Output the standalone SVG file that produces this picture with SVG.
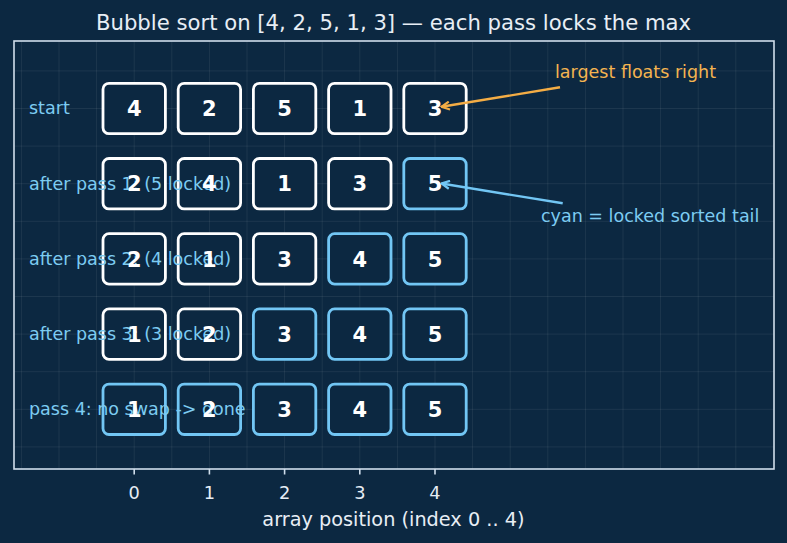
<svg xmlns="http://www.w3.org/2000/svg" width="787" height="543" viewBox="0 0 787 543">
<defs>
<style>
.bg{fill:#0c2841}
.grid line{stroke:#ffffff;stroke-opacity:0.07;stroke-width:1}
.frame{fill:none;stroke:#d0deec;stroke-width:1.6}
.box{fill:#0c2841;stroke-width:2.8}
.w{stroke:#ffffff}
.c{stroke:#72c6f4}
.num{font-family:"DejaVu Sans",sans-serif;font-weight:bold;font-size:21px;fill:#ffffff;text-anchor:middle}
.lbl{font-family:"DejaVu Sans",sans-serif;font-size:17.5px;fill:#7dccf2}
.tick{font-family:"DejaVu Sans",sans-serif;font-size:17.8px;fill:#e6edf5;text-anchor:middle}
.ticks line{stroke:#d0deec;stroke-width:1.6}
</style>
<marker id="ao" viewBox="0 0 10 10" refX="9" refY="5" markerWidth="10" markerHeight="10" markerUnits="userSpaceOnUse" orient="auto">
<path d="M1,1 L9,5 L1,9" fill="none" stroke="#f4ad45" stroke-width="2.2"/>
</marker>
<marker id="ac" viewBox="0 0 10 10" refX="9" refY="5" markerWidth="10" markerHeight="10" markerUnits="userSpaceOnUse" orient="auto">
<path d="M1,1 L9,5 L1,9" fill="none" stroke="#72c6f4" stroke-width="2.2"/>
</marker>
</defs>
<rect class="bg" x="0" y="0" width="787" height="543"/>
<text x="393.5" y="30" font-family="DejaVu Sans, sans-serif" font-size="21.2" fill="#e8eef5" text-anchor="middle">Bubble sort on [4, 2, 5, 1, 3] — each pass locks the max</text>
<g class="grid">
<line x1="21.4" y1="41" x2="21.4" y2="469"/><line x1="59" y1="41" x2="59" y2="469"/><line x1="96.6" y1="41" x2="96.6" y2="469"/><line x1="134.2" y1="41" x2="134.2" y2="469"/><line x1="171.8" y1="41" x2="171.8" y2="469"/><line x1="209.4" y1="41" x2="209.4" y2="469"/><line x1="247" y1="41" x2="247" y2="469"/><line x1="284.6" y1="41" x2="284.6" y2="469"/><line x1="322.2" y1="41" x2="322.2" y2="469"/><line x1="359.8" y1="41" x2="359.8" y2="469"/><line x1="397.4" y1="41" x2="397.4" y2="469"/><line x1="435" y1="41" x2="435" y2="469"/><line x1="472.6" y1="41" x2="472.6" y2="469"/><line x1="510.2" y1="41" x2="510.2" y2="469"/><line x1="547.8" y1="41" x2="547.8" y2="469"/><line x1="585.4" y1="41" x2="585.4" y2="469"/><line x1="623" y1="41" x2="623" y2="469"/><line x1="660.6" y1="41" x2="660.6" y2="469"/><line x1="698.2" y1="41" x2="698.2" y2="469"/><line x1="735.8" y1="41" x2="735.8" y2="469"/>
<line x1="14" y1="70.9" x2="774" y2="70.9"/><line x1="14" y1="108.5" x2="774" y2="108.5"/><line x1="14" y1="146.1" x2="774" y2="146.1"/><line x1="14" y1="183.7" x2="774" y2="183.7"/><line x1="14" y1="221.3" x2="774" y2="221.3"/><line x1="14" y1="258.9" x2="774" y2="258.9"/><line x1="14" y1="296.5" x2="774" y2="296.5"/><line x1="14" y1="334.1" x2="774" y2="334.1"/><line x1="14" y1="371.7" x2="774" y2="371.7"/><line x1="14" y1="409.3" x2="774" y2="409.3"/><line x1="14" y1="446.9" x2="774" y2="446.9"/>
</g>
<g id="row0">
<rect class="box w" x="103" y="83.3" width="62.4" height="50.4" rx="6"/>
<rect class="box w" x="178.2" y="83.3" width="62.4" height="50.4" rx="6"/>
<rect class="box w" x="253.4" y="83.3" width="62.4" height="50.4" rx="6"/>
<rect class="box w" x="328.6" y="83.3" width="62.4" height="50.4" rx="6"/>
<rect class="box w" x="403.8" y="83.3" width="62.4" height="50.4" rx="6"/>
</g>
<g id="row1">
<rect class="box w" x="103" y="158.5" width="62.4" height="50.4" rx="6"/>
<rect class="box w" x="178.2" y="158.5" width="62.4" height="50.4" rx="6"/>
<rect class="box w" x="253.4" y="158.5" width="62.4" height="50.4" rx="6"/>
<rect class="box w" x="328.6" y="158.5" width="62.4" height="50.4" rx="6"/>
<rect class="box c" x="403.8" y="158.5" width="62.4" height="50.4" rx="6"/>
</g>
<g id="row2">
<rect class="box w" x="103" y="233.7" width="62.4" height="50.4" rx="6"/>
<rect class="box w" x="178.2" y="233.7" width="62.4" height="50.4" rx="6"/>
<rect class="box w" x="253.4" y="233.7" width="62.4" height="50.4" rx="6"/>
<rect class="box c" x="328.6" y="233.7" width="62.4" height="50.4" rx="6"/>
<rect class="box c" x="403.8" y="233.7" width="62.4" height="50.4" rx="6"/>
</g>
<g id="row3">
<rect class="box w" x="103" y="308.9" width="62.4" height="50.4" rx="6"/>
<rect class="box w" x="178.2" y="308.9" width="62.4" height="50.4" rx="6"/>
<rect class="box c" x="253.4" y="308.9" width="62.4" height="50.4" rx="6"/>
<rect class="box c" x="328.6" y="308.9" width="62.4" height="50.4" rx="6"/>
<rect class="box c" x="403.8" y="308.9" width="62.4" height="50.4" rx="6"/>
</g>
<g id="row4">
<rect class="box c" x="103" y="384.1" width="62.4" height="50.4" rx="6"/>
<rect class="box c" x="178.2" y="384.1" width="62.4" height="50.4" rx="6"/>
<rect class="box c" x="253.4" y="384.1" width="62.4" height="50.4" rx="6"/>
<rect class="box c" x="328.6" y="384.1" width="62.4" height="50.4" rx="6"/>
<rect class="box c" x="403.8" y="384.1" width="62.4" height="50.4" rx="6"/>
</g>
<g id="labels">
<text class="lbl" x="29" y="114.3">start</text>
<text class="lbl" x="29" y="189.5">after pass 1: (5 locked)</text>
<text class="lbl" x="29" y="264.7">after pass 2: (4 locked)</text>
<text class="lbl" x="29" y="339.9">after pass 3: (3 locked)</text>
<text class="lbl" x="29" y="415.1">pass 4: no swap -&gt; done</text>
</g>
<g id="digits">
<text class="num" x="134.2" y="116.1">4</text><text class="num" x="209.4" y="116.1">2</text><text class="num" x="284.6" y="116.1">5</text><text class="num" x="359.8" y="116.1">1</text><text class="num" x="435" y="116.1">3</text>
<text class="num" x="134.2" y="191.3">2</text><text class="num" x="209.4" y="191.3">4</text><text class="num" x="284.6" y="191.3">1</text><text class="num" x="359.8" y="191.3">3</text><text class="num" x="435" y="191.3">5</text>
<text class="num" x="134.2" y="266.5">2</text><text class="num" x="209.4" y="266.5">1</text><text class="num" x="284.6" y="266.5">3</text><text class="num" x="359.8" y="266.5">4</text><text class="num" x="435" y="266.5">5</text>
<text class="num" x="134.2" y="341.7">1</text><text class="num" x="209.4" y="341.7">2</text><text class="num" x="284.6" y="341.7">3</text><text class="num" x="359.8" y="341.7">4</text><text class="num" x="435" y="341.7">5</text>
<text class="num" x="134.2" y="416.9">1</text><text class="num" x="209.4" y="416.9">2</text><text class="num" x="284.6" y="416.9">3</text><text class="num" x="359.8" y="416.9">4</text><text class="num" x="435" y="416.9">5</text>
</g>
<g id="connectors">
<line x1="560" y1="87.3" x2="441.5" y2="106.8" stroke="#f4ad45" stroke-width="2.4" marker-end="url(#ao)"/>
<line x1="562.7" y1="203.3" x2="441.5" y2="183.5" stroke="#72c6f4" stroke-width="2.4" marker-end="url(#ac)"/>
</g>
<g id="annotations">
<text x="555" y="78.3" font-family="DejaVu Sans, sans-serif" font-size="17.5" fill="#f4b450">largest floats right</text>
<text x="541" y="221.7" font-family="DejaVu Sans, sans-serif" font-size="17.5" fill="#7dccf2">cyan = locked sorted tail</text>
</g>
<rect class="frame" x="14" y="41" width="760" height="428"/>
<g class="ticks">
<line x1="134.2" y1="469" x2="134.2" y2="474.5"/><line x1="209.4" y1="469" x2="209.4" y2="474.5"/><line x1="284.6" y1="469" x2="284.6" y2="474.5"/><line x1="359.8" y1="469" x2="359.8" y2="474.5"/><line x1="435" y1="469" x2="435" y2="474.5"/>
</g>
<g id="axis">
<text class="tick" x="134.2" y="499">0</text><text class="tick" x="209.4" y="499">1</text><text class="tick" x="284.6" y="499">2</text><text class="tick" x="359.8" y="499">3</text><text class="tick" x="435" y="499">4</text>
<text x="393.4" y="525.5" font-family="DejaVu Sans, sans-serif" font-size="19.3" fill="#e8eef5" text-anchor="middle">array position (index 0 .. 4)</text>
</g>
</svg>
